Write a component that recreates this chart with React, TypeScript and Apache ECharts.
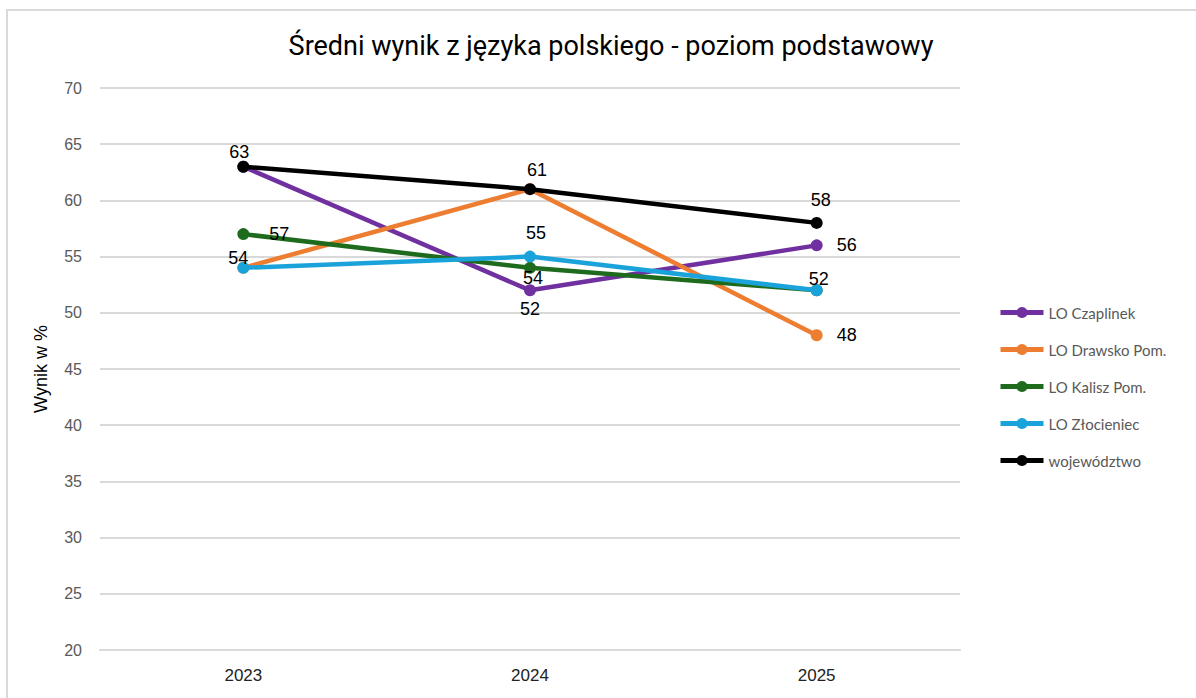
import React, { useEffect, useRef } from "react";
import * as echarts from "echarts";

const categories = ["2023", "2024", "2025"];
const seriesNames = ["LO Czaplinek", "LO Drawsko Pom.", "LO Kalisz Pom.", "LO Złocieniec", "województwo"];
const czaplinek = [63, 52, 56];
const drawsko = [54, 61, 48];
const kalisz = [57, 54, 52];
const zlocieniec = [54, 55, 52];
const wojewodztwo = [63, 61, 58];
const yTicks = { min: 20, max: 70, interval: 5 };

const colors = ["#7030A0", "#ED7D31", "#1E6B1E", "#1AA3DB", "#000000"];
// label offsets per point (null = hidden)
const labelOffsets: (number[] | null)[][] = [
  [null, [0, 19], [30, 0]],
  [null, null, [30, 0]],
  [[36, 0], [3, 10], null],
  [[-5, -10], [6, -24], [2, -11]],
  [[-4, -15], [7, -19], [4, -23]],
];

export default function App() {
  const ref = useRef<HTMLDivElement>(null);
  useEffect(() => {
    if (!ref.current) return;
    const chart = echarts.init(ref.current, undefined, { renderer: "svg" });
    const allData = [czaplinek, drawsko, kalisz, zlocieniec, wojewodztwo];
    const series = allData.map((vals, si) => ({
      type: "line",
      name: seriesNames[si],
      data: vals.map((v, i) => {
        const off = labelOffsets[si][i];
        return {
          value: v,
          label: off
            ? { show: true, position: "inside", offset: off }
            : { show: false },
        };
      }),
      color: colors[si],
      symbol: "circle",
      symbolSize: 12,
      lineStyle: { width: 4.5, color: colors[si] },
      itemStyle: { color: colors[si] },
      label: {
        fontSize: 18,
        color: "#000",
        fontFamily: "Liberation Sans, Arial, sans-serif",
      },
      z: 2 + si,
    }));
    chart.setOption({
      animation: false,
      title: {
        text: "Średni wynik z języka polskiego - poziom podstawowy",
        left: 606,
        textAlign: "center",
        top: 27,
        textStyle: {
          fontSize: 27,
          fontWeight: "normal",
          color: "#000",
          fontFamily: "Roboto, sans-serif",
        },
      },
      graphic: [
        {
          type: "rect",
          shape: { x: 7, y: 10, width: 1220, height: 720 },
          style: { fill: "none", stroke: "#d9d9d9", lineWidth: 2 },
          silent: true,
        },
      ],
      legend: {
        orient: "vertical",
        left: 998,
        top: 305,
        padding: 0,
        itemWidth: 43,
        itemHeight: 14,
        itemGap: 22,
        data: seriesNames,
        lineStyle: { width: 5 },
        textStyle: {
          fontSize: 15,
          color: "#595959",
          fontFamily: "Lato, Noto Sans, sans-serif",
        },
      },
      grid: { left: 100, right: 236, top: 88, bottom: 48 },
      xAxis: {
        type: "category",
        data: categories,
        axisLine: { show: true, lineStyle: { color: "#d9d9d9", width: 2 } },
        axisTick: { show: false },
        axisLabel: {
          fontSize: 17,
          color: "#222",
          margin: 17,
          fontFamily: "Liberation Sans, Arial, sans-serif",
        },
      },
      yAxis: {
        type: "value",
        min: yTicks.min,
        max: yTicks.max,
        interval: yTicks.interval,
        name: "Wynik w %",
        nameLocation: "middle",
        nameGap: 50,
        nameTextStyle: {
          fontSize: 18,
          color: "#000",
          fontFamily: "Liberation Sans, Arial, sans-serif",
        },
        axisLine: { show: false },
        axisTick: { show: false },
        axisLabel: {
          fontSize: 16,
          color: "#595959",
          margin: 18,
          fontFamily: "Liberation Sans, Arial, sans-serif",
        },
        splitLine: { lineStyle: { color: "#d9d9d9", width: 2 } },
      },
      series,
    });
    return () => chart.dispose();
  }, []);
  return (
    <div
      ref={ref}
      style={{ position: "absolute", left: 0, top: 0, width: 1196, height: 698 }}
    />
  );
}
